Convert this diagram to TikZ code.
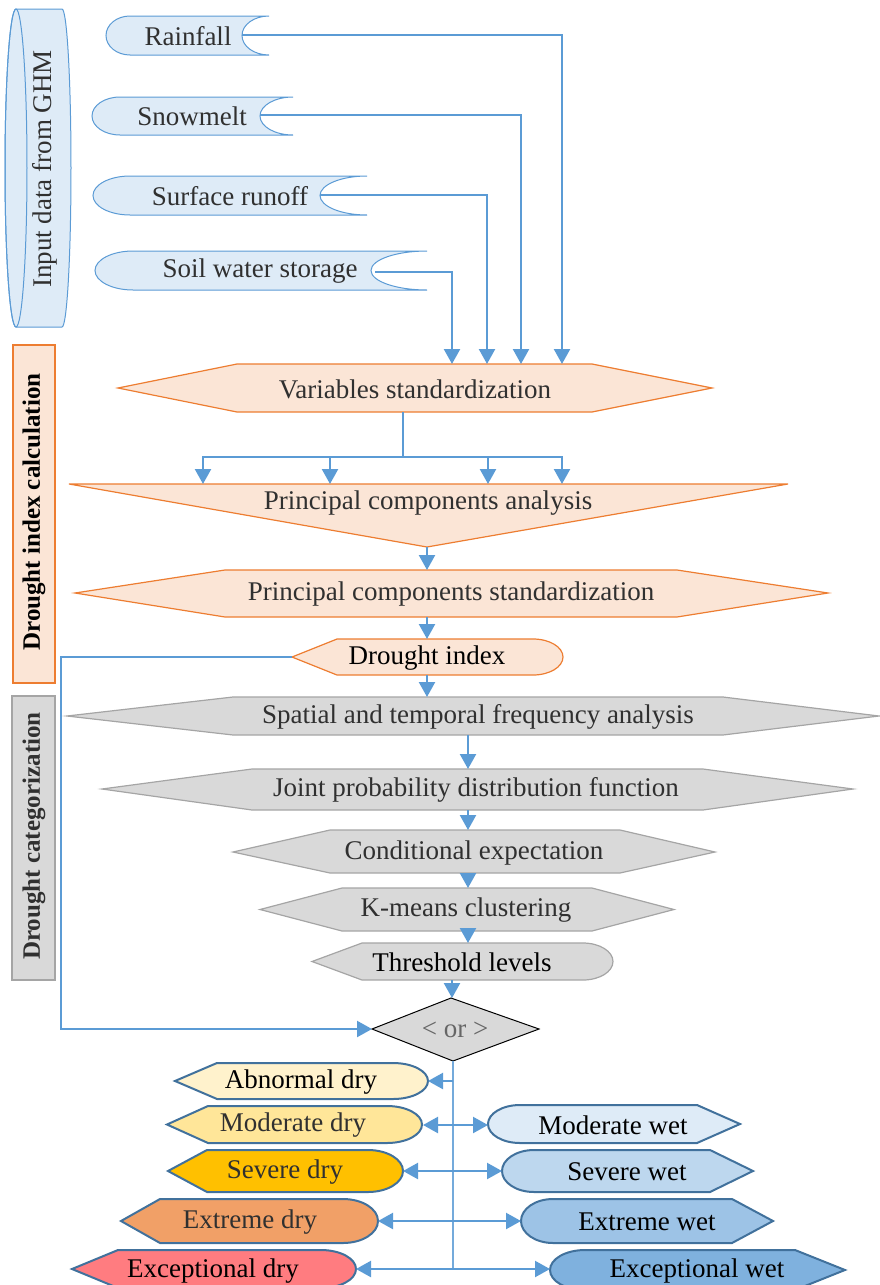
\documentclass[tikz,border=0pt]{standalone}
\usepackage{fontspec}
\setmainfont{Liberation Serif}
\usetikzlibrary{arrows.meta}
\definecolor{lnblue}{HTML}{5B9BD5}
\definecolor{inblue}{HTML}{DEEBF7}
\definecolor{orfill}{HTML}{FBE5D6}
\definecolor{orline}{HTML}{ED7D31}
\definecolor{grfill}{HTML}{D9D9D9}
\definecolor{grline}{HTML}{A5A5A5}
\definecolor{catline}{HTML}{41719C}
\definecolor{abn}{HTML}{FFF2CC}
\definecolor{mod}{HTML}{FFE699}
\definecolor{sev}{HTML}{FFC000}
\definecolor{ext}{HTML}{F1A067}
\definecolor{exc}{HTML}{FF7C80}
\definecolor{mwet}{HTML}{DEEBF7}
\definecolor{swet}{HTML}{BDD7EE}
\definecolor{ewet}{HTML}{9DC3E6}
\definecolor{xwet}{HTML}{7FB1DE}
\definecolor{gtext}{HTML}{303030}
\tikzset{
  inbox/.style={fill=inblue, draw=lnblue, line width=1pt},
  orbox/.style={fill=orfill, draw=orline, line width=1.2pt},
  grbox/.style={fill=grfill, draw=grline, line width=1.2pt},
  catbox/.style={draw=catline, line width=2pt},
  lbl/.style={font=\fontsize{27}{31}\selectfont, inner sep=0pt, text=black},
  glbl/.style={lbl, text=gtext},
  blbl/.style={font=\fontsize{25}{30}\selectfont\bfseries, inner sep=0pt},
  conn/.style={draw=lnblue, line width=2.3pt, ->},
  dconn/.style={draw=lnblue, line width=2.3pt, <->},
  thinl/.style={draw=lnblue, line width=1.2pt},
  vline/.style={draw=lnblue!85, line width=1.6pt},
}
\begin{document}
\begin{tikzpicture}[x=1pt,y=-1pt,>={Triangle[width=16pt,length=15pt]}]
\useasboundingbox (0,0) rectangle (880,1285);
\clip (0,0) rectangle (880,1285);

% ---------- side labels ----------
\path[inbox] (16,9) -- (62,9) arc[start angle=-90,end angle=90,x radius=9,y radius=159] -- (16,327) arc[start angle=90,end angle=270,x radius=11,y radius=159] -- cycle;
\draw[draw=lnblue, line width=1pt] (16,168) ellipse[x radius=11,y radius=159];
\node[glbl,rotate=90] (ghm) at (45,169) {Input data from GHM};

\path[orbox] (13,345) rectangle (55,683);
\node[blbl,rotate=90,text=black] (dic) at (34,512) {Drought index calculation};

\path[grbox] (12,696) rectangle (55,980);
\node[blbl,rotate=90,text=gtext] (dcat) at (34,836) {Drought categorization};

% ---------- inputs ----------
\path[inbox] (130,16) -- (269,16) arc[start angle=-90,end angle=-270,x radius=27,y radius=19.5] -- (130,55) arc[start angle=90,end angle=270,x radius=24,y radius=19.5] -- cycle;
\node[glbl] (rain) at (188,36) {Rainfall};
\coordinate (rain-o) at (242,35);

\path[inbox] (120,97) -- (293,97) arc[start angle=-90,end angle=-270,x radius=33,y radius=19] -- (120,135) arc[start angle=90,end angle=270,x radius=28,y radius=19] -- cycle;
\node[glbl] (snow) at (192,116) {Snowmelt};
\coordinate (snow-o) at (260,115);

\path[inbox] (130,176) -- (367,176) arc[start angle=-90,end angle=-270,x radius=47,y radius=19.5] -- (130,215) arc[start angle=90,end angle=270,x radius=37,y radius=19.5] -- cycle;
\node[glbl] (surf) at (230,196) {Surface runoff};
\coordinate (surf-o) at (320,195);

\path[inbox] (133,251) -- (427,251) arc[start angle=-90,end angle=-270,x radius=56,y radius=19.5] -- (133,290) arc[start angle=90,end angle=270,x radius=38,y radius=19.5] -- cycle;
\node[glbl] (soil) at (260,271) {Soil water storage};
\coordinate (soil-o) at (375,272);

% ---------- variables standardization ----------
\path[orbox] (118,388) -- (237,364) -- (592,364) -- (712,388) -- (592,412) -- (237,412) -- cycle;
\node[glbl] (vs) at (415,389) {Variables standardization};
\coordinate (vs1) at (452,364);
\coordinate (vs2) at (487,364);
\coordinate (vs3) at (521,364);
\coordinate (vs4) at (562,364);
\coordinate (vsb) at (403,412);
\coordinate (bus) at (403,457);

\draw[conn] (rain-o) -| (vs4);
\draw[conn] (snow-o) -| (vs3);
\draw[conn] (surf-o) -| (vs2);
\draw[conn] (soil-o) -| (vs1);

% ---------- PCA ----------
\path[orbox] (69,484) -- (788,484) -- (427,547) -- cycle;
\node[lbl,text=gtext] (pca) at (428,503) {Principal components analysis};
\coordinate (pca1) at (203,484);
\coordinate (pca2) at (330,484);
\coordinate (pca3) at (488,484);
\coordinate (pca4) at (562,484);
\coordinate (pcab) at (427,547);

\draw[thinl] (vsb) -- (bus);
\draw[conn] (bus) -| (pca1);
\draw[conn] (bus) -| (pca2);
\draw[conn] (bus) -| (pca3);
\draw[conn] (bus) -| (pca4);

% ---------- PCS ----------
\path[orbox] (75,593) -- (225,570) -- (677,570) -- (828,593) -- (677,617) -- (225,617) -- cycle;
\node[glbl] (pcs) at (451,594) {Principal components standardization};
\coordinate (pcst) at (427,570);
\coordinate (pcsb) at (427,617);
\draw[conn] (pcab) -- (pcst);

% ---------- drought index ----------
\path[orbox] (292,657) -- (337,639) -- (533,639) arc[start angle=-90,end angle=90,x radius=30,y radius=18] -- (337,675) -- cycle;
\node[lbl] (di) at (427,658) {Drought index};
\coordinate (dit) at (427,639);
\coordinate (dib) at (427,675);
\coordinate (dil) at (292,657);
\draw[conn] (pcsb) -- (dit);

% ---------- categorization chain ----------
\path[grbox] (67,716) -- (233,697) -- (723,697) -- (879,716) -- (723,735) -- (233,735) -- cycle;
\node[glbl] (sp) at (478,717) {Spatial and temporal frequency analysis};
\coordinate (spt) at (427,697);
\coordinate (spb) at (468,735);
\draw[conn] (dib) -- (spt);

\path[grbox] (102,789) -- (252,769) -- (703,769) -- (853,789) -- (703,810) -- (252,810) -- cycle;
\node[glbl] (jp) at (476,790) {Joint probability distribution function};
\coordinate (jpt) at (468,769);
\coordinate (jpb) at (468,810);
\draw[conn] (spb) -- (jpt);

\path[grbox] (233,852) -- (330,830) -- (620,830) -- (715,852) -- (620,873) -- (330,873) -- cycle;
\node[glbl] (ce) at (474,853) {Conditional expectation};
\coordinate (cet) at (468,830);
\coordinate (ceb) at (468,873);
\draw[conn] (jpb) -- (cet);

\path[grbox] (260,909.5) -- (342,888) -- (592,888) -- (674,909.5) -- (592,931) -- (342,931) -- cycle;
\node[glbl] (km) at (466,910) {K-means clustering};
\coordinate (kmt) at (468,888);
\coordinate (kmb) at (468,931);
\draw[conn] (ceb) -- (kmt);

\path[grbox] (312,961.5) -- (362,943) -- (583,943) arc[start angle=-90,end angle=90,x radius=30,y radius=18.5] -- (362,980) -- cycle;
\node[lbl] (th) at (462,962) {Threshold levels};
\coordinate (tht) at (468,943);
\coordinate (thb) at (452,980);
\draw[conn] (kmb) -- (tht);

% ---------- decision ----------
\path[fill=grfill, draw=black, line width=1pt] (372,1029) -- (451,998) -- (539,1029) -- (453,1061) -- cycle;
\node[lbl,text=black!60] (or) at (455,1030) {< or >};
\coordinate (dt) at (452,998);
\coordinate (dl) at (372,1029);
\coordinate (db) at (453,1061);
\draw[conn] (thb) -- (dt);

\coordinate (fb) at (61,657);
\draw[conn] (dil) -- (fb) |- (dl);

\coordinate (vend) at (453,1269);
\draw[vline] (db) -- (vend);

% ---------- dry classes ----------
\path[catbox, fill=abn] (175,1081) -- (217,1063) -- (393,1063) arc[start angle=-90,end angle=90,x radius=35,y radius=18] -- (217,1099) -- cycle;
\node[lbl] (abd) at (301,1082) {Abnormal dry};
\coordinate (abd-r) at (428,1081);

\path[catbox, fill=mod] (167,1124.5) -- (208,1106) -- (387,1106) arc[start angle=-90,end angle=90,x radius=35,y radius=18.5] -- (208,1143) -- cycle;
\node[glbl] (mdd) at (293,1125) {Moderate dry};
\coordinate (mdd-r) at (423,1125);

\path[catbox, fill=sev] (168,1171) -- (207,1150) -- (368,1150) arc[start angle=-90,end angle=90,x radius=35,y radius=21] -- (207,1192) -- cycle;
\node[glbl] (svd) at (285,1172) {Severe dry};
\coordinate (svd-r) at (403,1171);

\path[catbox, fill=ext] (121,1221) -- (160,1199) -- (343,1199) arc[start angle=-90,end angle=90,x radius=35,y radius=22] -- (160,1243) -- cycle;
\node[glbl] (exd) at (250,1222) {Extreme dry};
\coordinate (exd-r) at (378,1221);

\path[catbox, fill=exc] (72,1269) -- (118,1250) -- (321,1250) arc[start angle=-90,end angle=90,x radius=35,y radius=19] -- (118,1288) -- cycle;
\node[lbl] (xcd) at (213,1271) {Exceptional dry};
\coordinate (xcd-r) at (356,1269);

% ---------- wet classes ----------
\path[catbox, fill=mwet] (520,1105) -- (697,1105) -- (740,1124) -- (697,1143) -- (520,1143) arc[start angle=90,end angle=270,x radius=32,y radius=19] -- cycle;
\node[lbl] (mdw) at (613,1125) {Moderate wet};
\coordinate (mdw-l) at (488,1125);

\path[catbox, fill=swet] (534,1150) -- (710,1150) -- (753,1171) -- (710,1192) -- (534,1192) arc[start angle=90,end angle=270,x radius=32,y radius=21] -- cycle;
\node[lbl] (svw) at (627,1172) {Severe wet};
\coordinate (svw-l) at (502,1171);

\path[catbox, fill=ewet] (553,1199) -- (732,1199) -- (773,1221) -- (732,1243) -- (553,1243) arc[start angle=90,end angle=270,x radius=32,y radius=22] -- cycle;
\node[lbl] (exw) at (647,1222) {Extreme wet};
\coordinate (exw-l) at (521,1221);

\path[catbox, fill=xwet] (585,1250) -- (795,1250) -- (845,1270) -- (795,1290) -- (585,1290) arc[start angle=90,end angle=270,x radius=35,y radius=20] -- cycle;
\node[lbl] (xcw) at (697,1271) {Exceptional wet};
\coordinate (xcw-l) at (550,1269);

% ---------- class connectors ----------
\coordinate (v1) at (453,1081);
\draw[conn] (v1) -- (abd-r);
\draw[dconn] (mdd-r) -- (mdw-l);
\draw[dconn] (svd-r) -- (svw-l);
\draw[dconn] (exd-r) -- (exw-l);
\draw[dconn] (xcd-r) -- (xcw-l);
\end{tikzpicture}
\end{document}
